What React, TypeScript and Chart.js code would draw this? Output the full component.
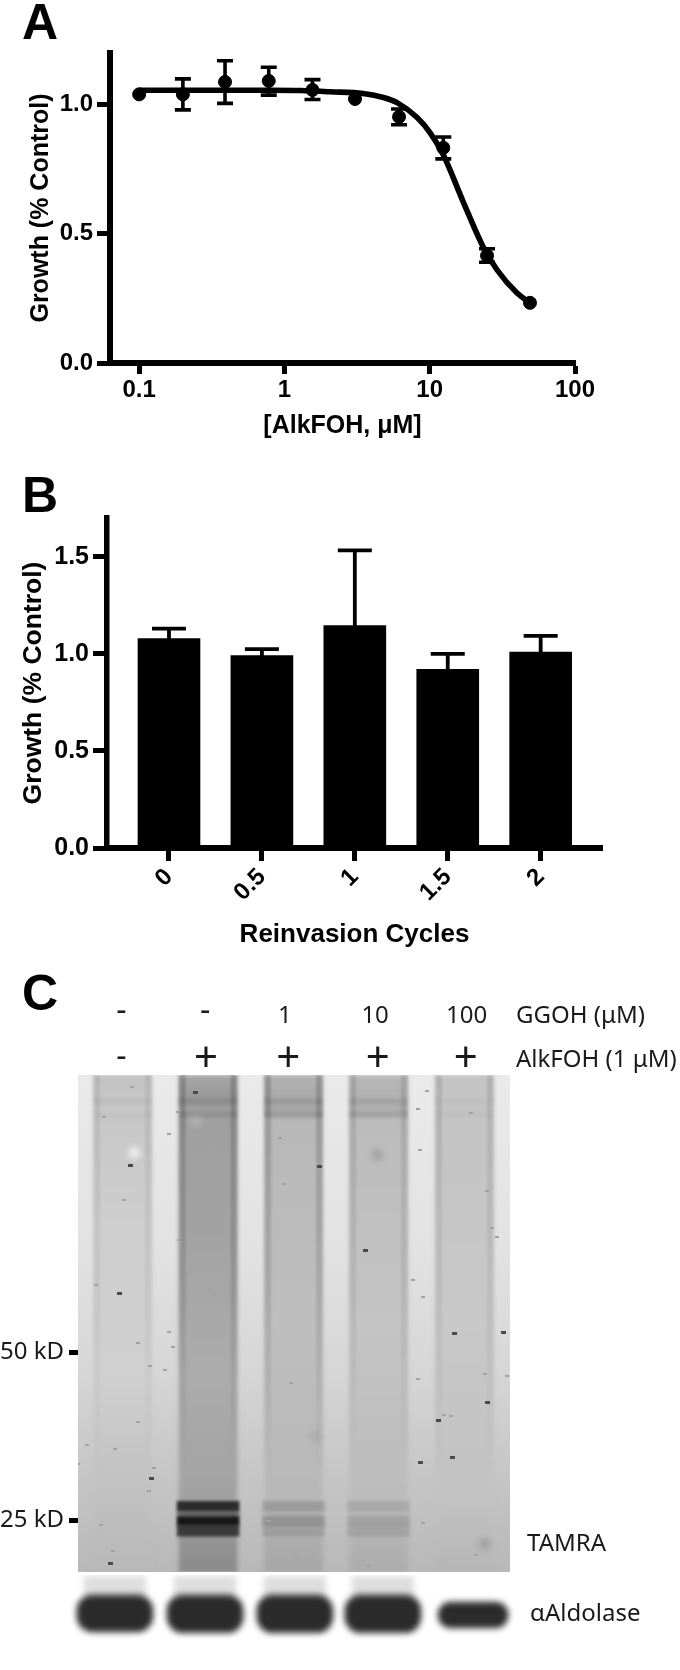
import React, { useEffect, useRef } from "react";
import { Chart, registerables } from "chart.js";

Chart.register(...registerables);

const SANS = "'Liberation Sans', Arial, sans-serif";
const GELFONT = "'Noto Sans', sans-serif";

// Panel A
const doseX = [0.1, 0.2, 0.39, 0.78, 1.56, 3.06, 6.15, 12.4, 24.8, 49];
const doseY = [1.04, 1.04, 1.088, 1.092, 1.057, 1.022, 0.953, 0.833, 0.416, 0.233];
const doseHi = [null, 1.1, 1.17, 1.145, 1.097, null, 0.983, 0.875, 0.442, null];
const doseLo = [null, 0.98, 1.005, 1.037, 1.02, null, 0.922, 0.79, 0.39, null];
const fitX = [0.1, 0.3, 0.8, 1.3, 2.06, 3.48, 4.8, 5.96, 8.19, 10.07, 12.4, 17, 23.3, 29.1, 39.9, 49];
const fitY = [1.056, 1.056, 1.056, 1.055, 1.05, 1.043, 1.028, 1.008, 0.95, 0.891, 0.806, 0.624, 0.45, 0.36, 0.271, 0.233];
const doseTicks = [0.1, 1, 10, 100];

// Panel B
const cycleLabels = ["0", "0.5", "1", "1.5", "2"];
const growthMean = [1.079, 0.991, 1.146, 0.921, 1.009];
const growthHi = [1.13, 1.024, 1.533, 1.0, 1.093];

// Panel C: gel readings, in a scan-unit frame
const laneCenters = [283, 480, 677, 873, 1071];
const ggohLabels = ["-", "-", "1", "10", "100"];
const ggohPos = [280, 473, 657, 865, 1076];
const alkLabels = ["-", "+", "+", "+", "+"];
const alkPos = [280, 475, 665, 871, 1074];
const kdTicks = [50, 25];
const bgShade: [number, string][] = [[0, "#eaeaea"], [0.35, "#e2e2e2"], [0.6, "#d6d6d6"], [0.72, "#cccccc"], [1, "#b8b8b8"]];
const laneShades: [number, string][][] = [
  [[0, "#c2c2c2"], [0.04, "#c6c6c6"], [0.3, "#cecece"], [0.6, "#d0d0d0"], [0.75, "#c6c6c6"], [1, "#b8b8b8"]],
  [[0, "#a6a6a6"], [0.05, "#989898"], [0.08, "#a0a0a0"], [0.3, "#a2a2a2"], [0.6, "#acacac"], [0.85, "#a2a2a2"], [1, "#8a8a8a"]],
  [[0, "#b2b2b2"], [0.07, "#a6a6a6"], [0.09, "#b8b8b8"], [0.5, "#bebebe"], [0.85, "#b8b8b8"], [1, "#a6a6a6"]],
  [[0, "#b8b8b8"], [0.07, "#aeaeae"], [0.09, "#bcbcbc"], [0.5, "#c4c4c4"], [0.85, "#bcbcbc"], [1, "#acacac"]],
  [[0, "#c4c4c4"], [0.5, "#c8c8c8"], [0.85, "#c2c2c2"], [1, "#b6b6b6"]],
];
const edgeAlpha = [0.07, 0.18, 0.18, 0.11, 0.1];
const wellBands = [[295, 0.04, 0.08, 0.08, 0.07, 0.02], [325, 0.02, 0.09, 0.1, 0.09, 0.02]];
const tamraBands = [
  [1190, 1211, 0, 0.72, 0.14, 0.09, 0],
  [1211, 1224, 0, 0.35, 0.04, 0.02, 0],
  [1224, 1243, 0, 0.85, 0.18, 0.11, 0],
  [1243, 1268, 0, 0.62, 0.1, 0.1, 0],
];
const darkSpeckX = [275, 737, 843, 1049, 1123, 1043, 969, 254, 349, 1012, 1160, 301, 451];
const darkSpeckY = [724, 441, 628, 815, 968, 1092, 1103, 1330, 1138, 1010, 812, 438, 275];
const faintSpeckX = [344, 318, 672, 1086, 964, 975, 318, 285, 487, 656, 1124, 1134, 645, 222, 482, 265, 201, 1024, 1118, 963, 381, 389, 400, 953, 968, 240, 305, 412, 1145, 1170, 985, 355, 850, 975, 260, 686, 232, 620, 180, 1098, 1040, 345, 410, 390];
const faintSpeckY = [1167, 1013, 926, 322, 312, 732, 835, 516, 398, 480, 495, 578, 378, 706, 716, 1072, 1064, 997, 905, 917, 895, 810, 845, 695, 403, 330, 263, 606, 598, 910, 272, 1115, 1335, 1238, 1300, 1316, 1243, 1233, 1106, 1310, 1000, 886, 318, 368];
const smudgeX = [870, 310, 1118, 728, 452];
const smudgeY = [415, 410, 1285, 1045, 338];
const smudgeTone = ["rgba(0,0,0,0.14)", "rgba(255,255,255,0.7)", "rgba(0,0,0,0.14)", "rgba(0,0,0,0.07)", "rgba(255,255,255,0.2)"];

// Aldolase blot readings
const blotX = [265, 473, 680, 883, 1091];
const blotTop = [1400, 1400, 1400, 1400, 1416];
const blotBottom = [1483, 1485, 1485, 1485, 1474];
const blotWidths = [76, 76, 76, 76, 70];
const smearX = [265, 473, 680, 883];

const axisFont = { family: SANS, weight: "bold" as const };

function fixedBox(size: number) {
  return (s: any) => {
    if (s.isHorizontal()) s.height = size;
    else s.width = size;
    s.paddingTop = 0;
    s.paddingBottom = 0;
    s.paddingLeft = 0;
    s.paddingRight = 0;
  };
}

function errorBars(getPts: () => { x: number; hi: number | null; lo: number | null }[], capPx: number, lw: number) {
  return {
    id: "errorBars",
    afterDatasetsDraw(chart: any) {
      const { ctx, scales } = chart;
      ctx.save();
      ctx.strokeStyle = "#000";
      ctx.lineWidth = lw;
      getPts().forEach((p) => {
        if (p.hi == null) return;
        const x = scales.x.getPixelForValue(p.x);
        const y1 = scales.y.getPixelForValue(p.hi);
        const y2 = p.lo == null ? y1 + 1 : scales.y.getPixelForValue(p.lo);
        ctx.beginPath();
        ctx.moveTo(x, y1);
        ctx.lineTo(x, p.lo == null ? scales.y.getPixelForValue(0.5) : y2);
        ctx.moveTo(x - capPx / 2, y1);
        ctx.lineTo(x + capPx / 2, y1);
        if (p.lo != null) {
          ctx.moveTo(x - capPx / 2, y2);
          ctx.lineTo(x + capPx / 2, y2);
        }
        ctx.stroke();
      });
      ctx.restore();
    },
  };
}

const blurPlugin = {
  id: "blurPlugin",
  beforeDatasetDraw(chart: any, args: any) {
    const b = chart.data.datasets[args.index].blur;
    if (b) chart.ctx.filter = `blur(${b}px)`;
  },
  afterDatasetDraw(chart: any) {
    chart.ctx.filter = "none";
  },
};

function vgrad(stops: [number, string][]) {
  return (c: any) => {
    const a = c.chart.chartArea;
    if (!a) return stops[0][1];
    const g = c.chart.ctx.createLinearGradient(0, a.top, 0, a.bottom);
    stops.forEach(([o, col]) => g.addColorStop(o, col));
    return g;
  };
}

function bar(x: number[], a: number, b: number, px: number, color: any, blur = 0, extra: any = {}) {
  return {
    type: "bar",
    data: x.map((v) => ({ x: v, y: [a, b] })),
    barThickness: px,
    grouped: false,
    backgroundColor: color,
    borderWidth: 0,
    blur,
    ...extra,
  };
}

function speckGlyph(w: number, h: number, color: string) {
  const c = document.createElement("canvas");
  c.width = w;
  c.height = h;
  const x = c.getContext("2d")!;
  x.fillStyle = color;
  x.fillRect(0, 0, w, h);
  return c;
}

function useChart(make: (c: HTMLCanvasElement) => Chart) {
  const ref = useRef<HTMLCanvasElement>(null);
  useEffect(() => {
    const ch = make(ref.current!);
    return () => ch.destroy();
  }, []);
  return ref;
}

function makeA(c: HTMLCanvasElement) {
  return new Chart(c, {
    type: "line",
    data: {
      datasets: [
        {
          data: fitX.map((x, i) => ({ x, y: fitY[i] })),
          borderColor: "#000",
          borderWidth: 5.6,
          pointRadius: 0,
          cubicInterpolationMode: "monotone",
          clip: false,
        },
        {
          data: doseX.map((x, i) => ({ x, y: doseY[i] })),
          showLine: false,
          pointRadius: 6.5,
          backgroundColor: "#000",
          borderColor: "#000",
          clip: false,
        },
      ],
    } as any,
    plugins: [errorBars(() => doseX.map((x, i) => ({ x, hi: doseHi[i], lo: doseLo[i] })), 16, 3.6)],
    options: {
      animation: false,
      responsive: false,
      layout: { autoPadding: false, padding: { top: 53, right: 105, left: 0, bottom: 0 } },
      plugins: { legend: { display: false }, tooltip: { enabled: false } },
      scales: {
        x: {
          type: "logarithmic",
          min: 0.063,
          max: 100,
          afterFit: fixedBox(102),
          afterBuildTicks: (s: any) => { s.ticks = doseTicks.map((value) => ({ value })); },
          grid: { drawOnChartArea: false, tickColor: "#000", tickWidth: 5, tickLength: 11 },
          border: { color: "#000", width: 6 },
          ticks: { color: "#000", font: { ...axisFont, size: 24 }, padding: 2, maxRotation: 0, autoSkip: false, callback: (v: any) => String(v) },
          title: { display: true, text: "[AlkFOH, μM]", color: "#000", font: { ...axisFont, size: 25 }, padding: { top: 0, bottom: 24 } },
        },
        y: {
          min: 0,
          max: 1.2,
          afterFit: fixedBox(110),
          afterBuildTicks: (s: any) => { s.ticks = [0, 0.5, 1].map((value) => ({ value })); },
          grid: { drawOnChartArea: false, tickColor: "#000", tickWidth: 5, tickLength: 13 },
          border: { color: "#000", width: 6 },
          ticks: { color: "#000", font: { ...axisFont, size: 24 }, padding: 4, callback: (v: any) => Number(v).toFixed(1) },
          title: { display: true, text: "Growth (% Control)", color: "#000", font: { ...axisFont, size: 25 }, padding: { top: 26, bottom: 0 } },
        },
      },
    } as any,
  });
}

function makeB(c: HTMLCanvasElement) {
  return new Chart(c, {
    type: "bar",
    data: {
      datasets: [
        {
          data: growthMean.map((y, x) => ({ x, y })),
          backgroundColor: "#000",
          barThickness: 62,
          borderWidth: 0,
        },
      ],
    } as any,
    plugins: [errorBars(() => growthHi.map((hi, x) => ({ x, hi, lo: null })), 34, 3.8)],
    options: {
      animation: false,
      responsive: false,
      layout: { autoPadding: false, padding: { top: 48, right: 78, left: 0, bottom: 0 } },
      plugins: { legend: { display: false }, tooltip: { enabled: false } },
      scales: {
        x: {
          type: "linear",
          offset: false,
          min: -0.667,
          max: 4.66,
          afterFit: fixedBox(122),
          afterBuildTicks: (s: any) => { s.ticks = cycleLabels.map((_, value) => ({ value })); },
          grid: { offset: false, drawOnChartArea: false, tickColor: "#000", tickWidth: 5, tickLength: 13 },
          border: { color: "#000", width: 6 },
          ticks: { color: "#000", font: { ...axisFont, size: 24 }, padding: 2, minRotation: 45, maxRotation: 45, autoSkip: false, callback: (v: any) => cycleLabels[v] },
          title: { display: true, text: "Reinvasion Cycles", color: "#000", font: { ...axisFont, size: 26 }, padding: { top: 0, bottom: 20 } },
        },
        y: {
          min: 0,
          max: 1.7,
          afterFit: fixedBox(107),
          afterBuildTicks: (s: any) => { s.ticks = [0, 0.5, 1, 1.5].map((value) => ({ value })); },
          grid: { drawOnChartArea: false, tickColor: "#000", tickWidth: 5, tickLength: 14 },
          border: { color: "#000", width: 5.5 },
          ticks: { color: "#000", font: { ...axisFont, size: 25 }, padding: 4, callback: (v: any) => Number(v).toFixed(1) },
          title: { display: true, text: "Growth (% Control)", color: "#000", font: { ...axisFont, size: 26.5 }, padding: { top: 18, bottom: 0 } },
        },
      },
    } as any,
  });
}

const gelTextPlugin = {
  id: "gelText",
  afterDraw(chart: any) {
    const { ctx, scales } = chart;
    const x = scales.x;
    ctx.save();
    ctx.fillStyle = "#1a1a1a";
    ctx.textBaseline = "middle";
    ctx.textAlign = "center";
    const put = (t: string, px: number, py: number, size: number) => {
      ctx.font = `${size}px ${GELFONT}`;
      ctx.fillText(t, px, py);
    };
    ggohLabels.forEach((t, i) => put(t, x.getPixelForValue(ggohPos[i]), t === "-" ? 22 : 26, t === "-" ? 32 : 24));
    alkLabels.forEach((t, i) => put(t, x.getPixelForValue(alkPos[i]), t === "-" ? 68 : 70, t === "-" ? 32 : 42));
    ctx.textAlign = "left";
    put("GGOH (μM)", 516, 26, 24);
    put("AlkFOH (1 μM)", 516, 70, 24);
    put("TAMRA", 527, 554, 24);
    ctx.restore();
  },
};

function makeGel(c: HTMLCanvasElement) {
  const datasets: any[] = [];
  datasets.push(bar([678], 236, 1348, 432, vgrad(bgShade)));
  laneCenters.forEach((x, i) => {
    datasets.push(bar([x], 236, 1348, 58, vgrad(laneShades[i]), 2));
    const fade = vgrad([[0, `rgba(0,0,0,${edgeAlpha[i]})`], [0.45, `rgba(0,0,0,${edgeAlpha[i] * 0.6})`], [0.8, "rgba(0,0,0,0)"], [1, "rgba(0,0,0,0)"]]);
    datasets.push(bar([x - 60, x + 60], 236, 1348, 6, fade, 1.2));
  });
  wellBands.forEach(([y, ...alpha]) => {
    laneCenters.forEach((x, i) => {
      if (alpha[i] > 0) datasets.push(bar([x], y - 6, y + 6, 58, `rgba(0,0,0,${alpha[i]})`, 1.5));
    });
  });
  tamraBands.forEach(([a, b, ...alpha]) => {
    laneCenters.forEach((x, i) => {
      if (alpha[i] > 0) datasets.push(bar([x], a, b, 62, `rgba(0,0,0,${alpha[i]})`, 1.8));
    });
  });
  datasets.push({
    type: "scatter",
    data: smudgeX.map((x, i) => ({ x, y: smudgeY[i] })),
    pointRadius: 6,
    pointBorderWidth: 0,
    backgroundColor: smudgeTone,
    blur: 3,
  });
  datasets.push({
    type: "scatter",
    data: faintSpeckX.map((x, i) => ({ x, y: faintSpeckY[i] })),
    pointStyle: speckGlyph(4, 2, "#a2a2a2"),
    pointBorderWidth: 0,
    blur: 0.6,
  });
  datasets.push({
    type: "scatter",
    data: darkSpeckX.map((x, i) => ({ x, y: darkSpeckY[i] })),
    pointStyle: speckGlyph(5, 3, "#4a4a4a"),
    pointBorderWidth: 0,
    blur: 0.6,
  });
  datasets.reverse(); // Chart.js paints the first dataset on top
  return new Chart(c, {
    type: "bar",
    data: { datasets },
    plugins: [blurPlugin, gelTextPlugin],
    options: {
      animation: false,
      responsive: false,
      layout: { autoPadding: false, padding: { top: 85, right: 170, left: 0, bottom: 3 } },
      plugins: { legend: { display: false }, tooltip: { enabled: false } },
      scales: {
        x: { type: "linear", display: false, offset: false, min: 180, max: 1176, grid: { offset: false }, ticks: { display: false }, afterFit: fixedBox(0) },
        y: { type: "linear", display: false, min: 236, max: 1348, reverse: true, ticks: { display: false }, afterFit: fixedBox(0) },
        kd: {
          axis: "y",
          type: "logarithmic",
          position: "left",
          min: 20.2,
          max: 157,
          afterFit: fixedBox(78),
          afterBuildTicks: (s: any) => { s.ticks = kdTicks.map((value) => ({ value })); },
          grid: { drawOnChartArea: false, tickColor: "#000", tickWidth: 5, tickLength: 9 },
          border: { display: false },
          ticks: { color: "#1a1a1a", font: { family: GELFONT, size: 24 }, padding: 5, callback: (v: any) => `${v} kD` },
        },
      },
    } as any,
  });
}

const aldolaseTextPlugin = {
  id: "aldoText",
  afterDraw(chart: any) {
    const { ctx } = chart;
    ctx.save();
    ctx.fillStyle = "#1a1a1a";
    ctx.textBaseline = "middle";
    ctx.font = `24px ${GELFONT}`;
    ctx.fillText("αAldolase", 530, 39);
    ctx.restore();
  },
};

function makeAldolase(c: HTMLCanvasElement) {
  const datasets: any[] = [];
  datasets.push(bar(smearX, 1358, 1410, 62, "rgba(0,0,0,0.13)", 3, { clip: false }));
  blotX.forEach((x, i) => {
    datasets.push(bar([x], blotTop[i], blotBottom[i], blotWidths[i], "#2b2b2b", 3, {
      clip: false,
      borderRadius: 16,
      borderSkipped: false,
    }));
  });
  datasets.reverse();
  return new Chart(c, {
    type: "bar",
    data: { datasets },
    plugins: [blurPlugin, aldolaseTextPlugin],
    options: {
      animation: false,
      responsive: false,
      layout: { autoPadding: false, padding: { top: 0, right: 170, left: 78, bottom: 0 } },
      plugins: { legend: { display: false }, tooltip: { enabled: false } },
      scales: {
        x: { type: "linear", display: false, offset: false, min: 180, max: 1176, grid: { offset: false }, ticks: { display: false }, afterFit: fixedBox(0) },
        y: { type: "linear", display: false, min: 1355, max: 1535, reverse: true, ticks: { display: false }, afterFit: fixedBox(0) },
      },
    } as any,
  });
}

const panel = (top: number, height: number): React.CSSProperties => ({
  position: "absolute",
  left: 0,
  top,
  width: 680,
  height,
});

const letter = (top: number): React.CSSProperties => ({
  position: "absolute",
  left: 22,
  top,
  font: `bold 50px ${SANS}`,
  lineHeight: "50px",
  color: "#000",
});

export default function App() {
  const a = useChart(makeA);
  const b = useChart(makeB);
  const g = useChart(makeGel);
  const al = useChart(makeAldolase);
  return (
    <div style={{ position: "absolute", left: 0, top: 0, width: 680, height: 1670, background: "#fff", overflow: "hidden" }}>
      <canvas ref={a} width={680} height={465} style={panel(0, 465)} />
      <canvas ref={b} width={680} height={500} style={panel(470, 500)} />
      <canvas ref={g} width={680} height={585} style={panel(990, 585)} />
      <canvas ref={al} width={680} height={80} style={panel(1575, 80)} />
      <div style={letter(-3)}>A</div>
      <div style={letter(470)}>B</div>
      <div style={letter(968)}>C</div>
    </div>
  );
}
